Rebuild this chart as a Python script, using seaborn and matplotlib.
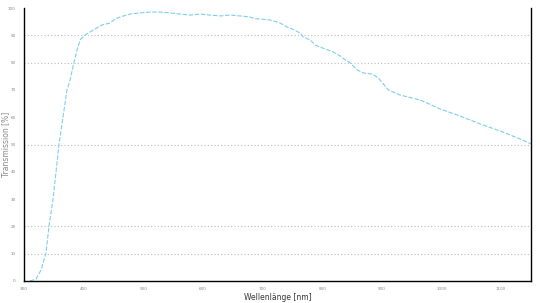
import matplotlib
matplotlib.use("Agg")
import matplotlib.pyplot as plt
import seaborn as sns
import pandas as pd

wavelength = [310, 320, 328.5, 336.9, 341.9, 348.7, 353.7, 358.7, 365.4, 372.1, 377.2,
              383.9, 388.9, 394.0, 402.3, 410.7, 419.1, 430.9, 444.3, 452.7, 461.1,
              477.9, 494.6, 511.4, 528.2, 545.0, 561.7, 578.5, 595.3, 612.1, 628.9,
              645.6, 662.4, 679.2, 687.6, 696.0, 712.8, 729.5, 741.3, 749.7, 763.1,
              768.1, 779.9, 788.3, 805.0, 818.5, 830.2, 838.6, 847.0, 858.7, 868.8,
              883.9, 894.0, 910.7, 930.9, 964.4, 998.0, 1031.5, 1065.1, 1098.7,
              1132.2, 1150]
transmission = [0, 0.7, 4.0, 10.3, 20.1, 30.0, 39.9, 50.2, 60.1, 70.0, 73.6,
                80.2, 84.6, 88.3, 90.1, 91.2, 92.3, 93.8, 94.5, 96.0, 96.7,
                97.8, 98.2, 98.5, 98.5, 98.2, 97.8, 97.4, 97.8, 97.4, 97.1,
                97.4, 97.1, 96.7, 96.0, 96.0, 95.6, 94.5, 93.0, 92.3, 90.8,
                89.4, 88.3, 86.4, 85.0, 83.9, 82.4, 81.0, 79.9, 77.3, 76.2,
                75.8, 74.4, 70.0, 68.1, 66.3, 63.0, 60.4, 57.5, 54.9,
                52.0, 50.2]
x_ticks = [300, 400, 500, 600, 700, 800, 900, 1000, 1100]
y_ticks = [0, 10, 20, 30, 40, 50, 60, 70, 80, 90, 100]
grid_levels = [10, 20, 50, 80, 90]

df = pd.DataFrame({"Wellenlänge [nm]": wavelength, "Transmission [%]": transmission})

sns.set_style("white")
plt.rcParams['font.family'] = ['DejaVu Sans']

fig = plt.figure(figsize=(5.4, 3.03), dpi=100)
ax = fig.add_axes([24/540, 22/303, (531-24)/540, (281-8)/303])

for g in grid_levels:
    ax.axhline(g, color="#bbbbbb", linestyle=(0, (1, 2)), linewidth=0.8, zorder=0)

sns.lineplot(data=df, x="Wellenlänge [nm]", y="Transmission [%]", ax=ax,
             color="#7fcdee", linewidth=0.8, linestyle=(0, (4, 1.5)))

ax.set_xlim(300, 1150)
ax.set_ylim(0, 100)
ax.set_xticks(x_ticks)
ax.set_yticks(y_ticks)
ax.set_xticklabels([str(v) for v in x_ticks], fontsize=3, color="#888888")
ax.set_yticklabels([str(v) for v in y_ticks], fontsize=3, color="#888888")
ax.tick_params(axis="x", direction="inout", length=5, width=0.8, pad=1.5)
ax.tick_params(axis="y", direction="out", length=3, width=0.8, pad=3)
ax.set_xlabel("Wellenlänge [nm]", fontsize=5.5, color="#333333")
ax.set_ylabel("Transmission [%]", fontsize=5.5, color="#888888")
ax.xaxis.set_label_coords(0.5, -(297.5 - 281) / 273, transform=ax.transAxes)
ax.yaxis.set_label_coords((6 - 24) / 507, 0.5, transform=ax.transAxes)
ax.xaxis.label.set_va("center")
ax.yaxis.label.set_va("center")

for s in ["left", "bottom", "right"]:
    ax.spines[s].set_visible(True)
    ax.spines[s].set_color("black")
    ax.spines[s].set_linewidth(1)
ax.spines["top"].set_visible(False)

fig.savefig("out.png", dpi=100)
